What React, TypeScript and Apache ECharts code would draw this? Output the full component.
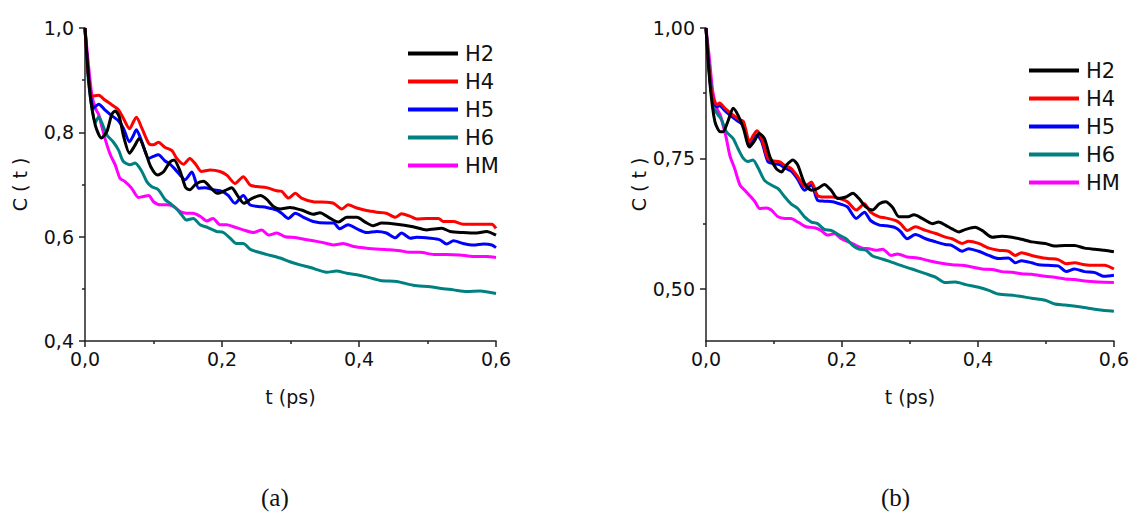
import React, { useEffect, useRef } from "react";
import * as echarts from "echarts";

const seriesNames = ["H2", "H4", "H5", "H6", "HM"];
const seriesColors = ["#000000", "#ff0000", "#0000ff", "#008080", "#ff00ff"];
const xTicks = [0, 0.2, 0.4, 0.6];
const yTicksA = [0.4, 0.6, 0.8, 1.0];
const yTicksB = [0.5, 0.75, 1.0];
const yMinorB = [0.625, 0.875];

// Panel (a)
const A_H2: [number, number][] = [
  [0, 1.0], [0.007, 0.878], [0.015, 0.814], [0.024, 0.789], [0.032, 0.802], [0.039, 0.834], [0.044, 0.841],
  [0.05, 0.83], [0.057, 0.789], [0.065, 0.76], [0.072, 0.773], [0.079, 0.788], [0.088, 0.763], [0.096, 0.734],
  [0.106, 0.718], [0.115, 0.725], [0.124, 0.743], [0.13, 0.747], [0.139, 0.725], [0.147, 0.694], [0.153, 0.69],
  [0.162, 0.701], [0.173, 0.706], [0.184, 0.693], [0.193, 0.683], [0.204, 0.688], [0.214, 0.694], [0.222, 0.68],
  [0.232, 0.664], [0.242, 0.672], [0.256, 0.679], [0.265, 0.672], [0.275, 0.658], [0.285, 0.653], [0.299, 0.656],
  [0.316, 0.651], [0.333, 0.643], [0.343, 0.646], [0.358, 0.635], [0.37, 0.628], [0.382, 0.637], [0.397, 0.637],
  [0.409, 0.628], [0.421, 0.621], [0.433, 0.626], [0.455, 0.624], [0.479, 0.619], [0.499, 0.613], [0.521, 0.616],
  [0.533, 0.61], [0.552, 0.608], [0.572, 0.607], [0.586, 0.61], [0.6, 0.603],
];
const A_H4: [number, number][] = [
  [0, 1.0], [0.01, 0.869], [0.02, 0.871], [0.029, 0.862], [0.039, 0.853], [0.049, 0.843], [0.056, 0.827],
  [0.065, 0.807], [0.071, 0.821], [0.075, 0.829], [0.083, 0.808], [0.093, 0.779], [0.1, 0.776], [0.107, 0.781],
  [0.117, 0.771], [0.127, 0.765], [0.134, 0.75], [0.144, 0.739], [0.153, 0.75], [0.162, 0.738], [0.17, 0.725],
  [0.183, 0.728], [0.197, 0.725], [0.207, 0.718], [0.219, 0.702], [0.231, 0.715], [0.241, 0.699], [0.251, 0.696],
  [0.265, 0.694], [0.28, 0.688], [0.287, 0.687], [0.297, 0.674], [0.307, 0.683], [0.316, 0.674], [0.333, 0.667],
  [0.353, 0.666], [0.363, 0.664], [0.375, 0.653], [0.384, 0.661], [0.397, 0.655], [0.411, 0.65], [0.426, 0.647],
  [0.44, 0.645], [0.453, 0.637], [0.462, 0.644], [0.475, 0.639], [0.484, 0.634], [0.499, 0.635], [0.516, 0.635],
  [0.523, 0.629], [0.538, 0.629], [0.552, 0.624], [0.567, 0.624], [0.584, 0.624], [0.594, 0.624], [0.6, 0.616],
];
const A_H5: [number, number][] = [
  [0, 1.0], [0.012, 0.846], [0.02, 0.854], [0.029, 0.843], [0.039, 0.832], [0.049, 0.822], [0.056, 0.808],
  [0.065, 0.782], [0.071, 0.795], [0.075, 0.805], [0.083, 0.782], [0.093, 0.75], [0.1, 0.754], [0.107, 0.757],
  [0.117, 0.745], [0.124, 0.739], [0.131, 0.73], [0.139, 0.718], [0.146, 0.709], [0.156, 0.724], [0.166, 0.693],
  [0.175, 0.694], [0.187, 0.69], [0.2, 0.687], [0.209, 0.679], [0.219, 0.664], [0.231, 0.679], [0.241, 0.661],
  [0.253, 0.658], [0.265, 0.656], [0.28, 0.651], [0.287, 0.645], [0.297, 0.635], [0.307, 0.645], [0.319, 0.637],
  [0.333, 0.629], [0.353, 0.626], [0.363, 0.626], [0.372, 0.615], [0.384, 0.623], [0.397, 0.615], [0.411, 0.608],
  [0.426, 0.61], [0.44, 0.607], [0.453, 0.598], [0.462, 0.607], [0.475, 0.597], [0.484, 0.599], [0.504, 0.597],
  [0.518, 0.594], [0.528, 0.586], [0.538, 0.592], [0.552, 0.587], [0.567, 0.584], [0.582, 0.586], [0.594, 0.584],
  [0.6, 0.579],
];
const A_H6: [number, number][] = [
  [0, 1.0], [0.005, 0.898], [0.015, 0.818], [0.02, 0.83], [0.024, 0.82], [0.032, 0.795], [0.041, 0.782],
  [0.049, 0.766], [0.056, 0.744], [0.066, 0.738], [0.073, 0.741], [0.083, 0.725], [0.09, 0.706], [0.097, 0.696],
  [0.107, 0.69], [0.117, 0.671], [0.127, 0.661], [0.134, 0.653], [0.141, 0.642], [0.148, 0.632], [0.158, 0.635],
  [0.168, 0.623], [0.18, 0.617], [0.192, 0.61], [0.202, 0.608], [0.212, 0.597], [0.221, 0.587], [0.231, 0.587],
  [0.241, 0.576], [0.251, 0.571], [0.265, 0.566], [0.285, 0.559], [0.299, 0.552], [0.314, 0.546], [0.329, 0.541],
  [0.353, 0.532], [0.367, 0.534], [0.382, 0.53], [0.397, 0.527], [0.411, 0.523], [0.431, 0.516], [0.455, 0.514],
  [0.479, 0.507], [0.504, 0.504], [0.518, 0.501], [0.538, 0.498], [0.557, 0.495], [0.577, 0.496], [0.6, 0.491],
];
const A_HM: [number, number][] = [
  [0, 1.0], [0.005, 0.93], [0.01, 0.872], [0.015, 0.846], [0.02, 0.834], [0.024, 0.814], [0.029, 0.789],
  [0.037, 0.757], [0.044, 0.738], [0.051, 0.712], [0.058, 0.706], [0.068, 0.693], [0.078, 0.675], [0.085, 0.677],
  [0.093, 0.679], [0.1, 0.667], [0.11, 0.661], [0.119, 0.661], [0.129, 0.658], [0.139, 0.648], [0.148, 0.645],
  [0.158, 0.645], [0.168, 0.639], [0.178, 0.63], [0.187, 0.635], [0.197, 0.623], [0.207, 0.623], [0.217, 0.619],
  [0.231, 0.613], [0.246, 0.608], [0.258, 0.613], [0.268, 0.603], [0.28, 0.607], [0.292, 0.6], [0.309, 0.598],
  [0.324, 0.594], [0.338, 0.591], [0.353, 0.587], [0.363, 0.584], [0.377, 0.587], [0.392, 0.581], [0.411, 0.578],
  [0.431, 0.576], [0.445, 0.575], [0.46, 0.573], [0.475, 0.57], [0.489, 0.57], [0.509, 0.566], [0.528, 0.566],
  [0.547, 0.565], [0.567, 0.562], [0.586, 0.562], [0.6, 0.56],
];

// Panel (b)
const B_H2: [number, number][] = [
  [0, 1.0], [0.006, 0.891], [0.013, 0.821], [0.021, 0.801], [0.025, 0.801], [0.033, 0.824], [0.04, 0.846],
  [0.047, 0.833], [0.055, 0.808], [0.064, 0.772], [0.072, 0.785], [0.078, 0.798], [0.086, 0.788], [0.094, 0.753],
  [0.103, 0.731], [0.111, 0.724], [0.118, 0.737], [0.128, 0.747], [0.135, 0.737], [0.145, 0.702], [0.155, 0.689],
  [0.164, 0.692], [0.174, 0.7], [0.184, 0.689], [0.194, 0.673], [0.206, 0.676], [0.216, 0.683], [0.225, 0.673],
  [0.235, 0.657], [0.245, 0.651], [0.255, 0.663], [0.264, 0.667], [0.274, 0.657], [0.284, 0.638], [0.296, 0.638],
  [0.306, 0.642], [0.318, 0.635], [0.333, 0.625], [0.342, 0.628], [0.352, 0.622], [0.362, 0.615], [0.372, 0.609],
  [0.382, 0.614], [0.396, 0.618], [0.406, 0.612], [0.421, 0.599], [0.435, 0.601], [0.45, 0.599], [0.464, 0.595],
  [0.479, 0.59], [0.499, 0.587], [0.513, 0.582], [0.528, 0.583], [0.542, 0.583], [0.557, 0.578], [0.572, 0.576],
  [0.586, 0.574], [0.6, 0.571],
];
const B_H4: [number, number][] = [
  [0, 1.0], [0.008, 0.878], [0.016, 0.853], [0.02, 0.856], [0.028, 0.846], [0.038, 0.835], [0.047, 0.826],
  [0.055, 0.821], [0.064, 0.782], [0.07, 0.795], [0.075, 0.803], [0.082, 0.788], [0.091, 0.75], [0.099, 0.745],
  [0.108, 0.744], [0.116, 0.736], [0.125, 0.731], [0.135, 0.715], [0.145, 0.696], [0.155, 0.705], [0.164, 0.679],
  [0.174, 0.676], [0.186, 0.676], [0.199, 0.672], [0.208, 0.667], [0.221, 0.651], [0.233, 0.663], [0.242, 0.647],
  [0.255, 0.638], [0.264, 0.636], [0.279, 0.631], [0.286, 0.625], [0.296, 0.612], [0.308, 0.619], [0.323, 0.612],
  [0.338, 0.606], [0.352, 0.599], [0.362, 0.596], [0.377, 0.587], [0.386, 0.591], [0.401, 0.587], [0.416, 0.578],
  [0.43, 0.574], [0.445, 0.572], [0.455, 0.564], [0.464, 0.569], [0.479, 0.564], [0.489, 0.561], [0.503, 0.558],
  [0.518, 0.556], [0.53, 0.548], [0.542, 0.55], [0.557, 0.546], [0.572, 0.545], [0.586, 0.545], [0.6, 0.538],
];
const B_H5: [number, number][] = [
  [0, 1.0], [0.008, 0.875], [0.016, 0.849], [0.02, 0.851], [0.028, 0.841], [0.038, 0.83], [0.047, 0.821],
  [0.055, 0.814], [0.064, 0.774], [0.07, 0.787], [0.075, 0.795], [0.082, 0.782], [0.091, 0.744], [0.099, 0.74],
  [0.108, 0.738], [0.116, 0.732], [0.125, 0.726], [0.135, 0.71], [0.145, 0.689], [0.155, 0.699], [0.164, 0.67],
  [0.174, 0.668], [0.186, 0.667], [0.199, 0.662], [0.208, 0.657], [0.221, 0.635], [0.233, 0.647], [0.242, 0.631],
  [0.255, 0.622], [0.264, 0.621], [0.279, 0.617], [0.286, 0.61], [0.296, 0.596], [0.308, 0.604], [0.323, 0.596],
  [0.338, 0.59], [0.352, 0.585], [0.362, 0.583], [0.377, 0.572], [0.386, 0.577], [0.401, 0.572], [0.416, 0.564],
  [0.43, 0.558], [0.445, 0.559], [0.455, 0.55], [0.464, 0.554], [0.479, 0.55], [0.489, 0.546], [0.503, 0.545],
  [0.518, 0.544], [0.53, 0.533], [0.542, 0.538], [0.557, 0.533], [0.572, 0.531], [0.586, 0.524], [0.6, 0.526],
];
const B_H6: [number, number][] = [
  [0, 1.0], [0.006, 0.91], [0.012, 0.846], [0.018, 0.833], [0.023, 0.824], [0.03, 0.801], [0.04, 0.788],
  [0.047, 0.769], [0.055, 0.75], [0.062, 0.744], [0.069, 0.747], [0.077, 0.731], [0.086, 0.708], [0.096, 0.699],
  [0.106, 0.692], [0.116, 0.676], [0.125, 0.663], [0.135, 0.654], [0.145, 0.638], [0.155, 0.628], [0.164, 0.625],
  [0.174, 0.614], [0.184, 0.612], [0.196, 0.603], [0.206, 0.596], [0.216, 0.583], [0.225, 0.576], [0.235, 0.574],
  [0.245, 0.563], [0.257, 0.558], [0.269, 0.553], [0.284, 0.546], [0.303, 0.538], [0.323, 0.529], [0.338, 0.522],
  [0.352, 0.512], [0.367, 0.513], [0.382, 0.508], [0.401, 0.503], [0.416, 0.497], [0.43, 0.49], [0.455, 0.487],
  [0.479, 0.482], [0.499, 0.478], [0.513, 0.471], [0.528, 0.469], [0.552, 0.465], [0.577, 0.46], [0.6, 0.457],
];
const B_HM: [number, number][] = [
  [0, 1.0], [0.005, 0.942], [0.01, 0.878], [0.016, 0.846], [0.021, 0.833], [0.025, 0.814], [0.03, 0.788],
  [0.035, 0.756], [0.042, 0.731], [0.05, 0.699], [0.057, 0.689], [0.064, 0.679], [0.072, 0.667], [0.079, 0.654],
  [0.089, 0.655], [0.096, 0.651], [0.106, 0.638], [0.116, 0.635], [0.125, 0.635], [0.135, 0.628], [0.147, 0.619],
  [0.16, 0.617], [0.169, 0.612], [0.179, 0.603], [0.189, 0.606], [0.199, 0.596], [0.208, 0.591], [0.221, 0.583],
  [0.23, 0.578], [0.24, 0.577], [0.25, 0.574], [0.26, 0.576], [0.272, 0.564], [0.282, 0.567], [0.296, 0.561],
  [0.311, 0.559], [0.328, 0.554], [0.342, 0.55], [0.362, 0.546], [0.377, 0.545], [0.391, 0.542], [0.406, 0.538],
  [0.421, 0.537], [0.435, 0.533], [0.45, 0.532], [0.464, 0.529], [0.479, 0.528], [0.499, 0.524], [0.513, 0.522],
  [0.528, 0.519], [0.542, 0.518], [0.557, 0.515], [0.577, 0.513], [0.6, 0.512],
];

const panelA = [A_H2, A_H4, A_H5, A_H6, A_HM];
const panelB = [B_H2, B_H4, B_H5, B_H6, B_HM];

const FONT = "DejaVu Sans";
const AXIS_COLOR = "#222";

export default function App() {
  const ref = useRef<HTMLDivElement>(null);
  useEffect(() => {
    if (!ref.current) return;
    const chart = echarts.init(ref.current, null, { renderer: "svg" });
    const fmt1 = (v: number) => v.toFixed(1).replace(".", ",");
    const fmt2 = (v: number) => v.toFixed(2).replace(".", ",");

    const xAxisBase = (gridIndex: number) => ({
      type: "value",
      gridIndex,
      min: 0,
      max: 0.6,
      interval: 0.2,
      name: "t (ps)",
      nameLocation: "middle",
      nameGap: 46,
      nameTextStyle: { fontFamily: FONT, fontSize: 19, color: "#111" },
      axisLine: { show: true, onZero: false, lineStyle: { color: AXIS_COLOR, width: 1.5 } },
      axisTick: { show: true, inside: false, length: 6, lineStyle: { color: AXIS_COLOR, width: 1.5 } },
      minorTick: { show: true, splitNumber: 2, length: 3, lineStyle: { color: AXIS_COLOR, width: 1.5 } },
      axisLabel: {
        fontFamily: FONT, fontSize: 19, color: "#111", margin: 8,
        formatter: (v: number) => fmt1(v),
        customValues: xTicks,
      },
      splitLine: { show: false },
      minorSplitLine: { show: false },
    });

    const yNameStyle = { fontFamily: FONT, fontSize: 19, color: "#111" };

    const series: any[] = [];
    panelA.forEach((d, i) => {
      series.push({
        type: "line", name: seriesNames[i], xAxisIndex: 0, yAxisIndex: 0, data: d,
        showSymbol: false, smooth: 0.25, color: seriesColors[i],
        lineStyle: { width: 3, color: seriesColors[i] }, z: 10 - i,
      });
    });
    panelB.forEach((d, i) => {
      series.push({
        type: "line", name: seriesNames[i], xAxisIndex: 1, yAxisIndex: 1, data: d,
        showSymbol: false, smooth: 0.25, color: seriesColors[i],
        lineStyle: { width: 3, color: seriesColors[i] }, z: 10 - i,
      });
    });

    const legendBase = {
      orient: "vertical",
      icon: "rect",
      itemWidth: 50,
      itemHeight: 4,
      itemGap: 7,
      textStyle: { fontFamily: FONT, fontSize: 21, color: "#111", padding: [0, 0, 0, 2] },
      data: seriesNames,
      selectedMode: false,
    };

    chart.setOption({
      animation: false,
      backgroundColor: "#ffffff",
      grid: [
        { left: 85, top: 28, width: 411, height: 313 },
        { left: 706, top: 28, width: 410, height: 313 },
      ],
      xAxis: [xAxisBase(0), xAxisBase(1)],
      yAxis: [
        {
          type: "value", gridIndex: 0, min: 0.4, max: 1.0, interval: 0.2,
          name: "C ( t )", nameLocation: "middle", nameGap: 56, nameTextStyle: yNameStyle,
          axisLine: { show: true, onZero: false, lineStyle: { color: AXIS_COLOR, width: 1.5 } },
          axisTick: { show: true, length: 6, lineStyle: { color: AXIS_COLOR, width: 1.5 } },
          minorTick: { show: true, splitNumber: 2, length: 3, lineStyle: { color: AXIS_COLOR, width: 1.5 } },
          axisLabel: { fontFamily: FONT, fontSize: 19, color: "#111", margin: 11, formatter: (v: number) => fmt1(v), customValues: yTicksA },
          splitLine: { show: false }, minorSplitLine: { show: false },
        },
        {
          type: "value", gridIndex: 1, min: 0.4, max: 1.0,
          name: "C ( t )", nameLocation: "middle", nameGap: 58, nameTextStyle: yNameStyle,
          axisLine: { show: true, onZero: false, lineStyle: { color: AXIS_COLOR, width: 1.5 } },
          axisTick: { show: true, length: 6, lineStyle: { color: AXIS_COLOR, width: 1.5 }, customValues: yTicksB },
          axisLabel: { fontFamily: FONT, fontSize: 19, color: "#111", margin: 11, formatter: (v: number) => fmt2(v), customValues: yTicksB },
          splitLine: { show: false }, minorSplitLine: { show: false },
        },
        {
          type: "value", gridIndex: 1, min: 0.4, max: 1.0, position: "left", offset: 0,
          axisLine: { show: false },
          axisTick: { show: true, length: 3, lineStyle: { color: AXIS_COLOR, width: 1.5 }, customValues: yMinorB },
          axisLabel: { show: false, customValues: yMinorB },
          splitLine: { show: false },
        },
      ],
      legend: [
        { ...legendBase, left: 403, top: 38 },
        { ...legendBase, left: 1024, top: 55 },
      ],
      graphic: [
        { type: "text", left: 261, top: 485, style: { text: "(a)", font: "25px 'Liberation Serif'", fill: "#111" } },
        { type: "text", left: 881, top: 485, style: { text: "(b)", font: "25px 'Liberation Serif'", fill: "#111" } },
      ],
      series,
    });
    return () => chart.dispose();
  }, []);
  return <div ref={ref} style={{ position: "absolute", left: 0, top: 0, width: 1132, height: 515 }} />;
}
